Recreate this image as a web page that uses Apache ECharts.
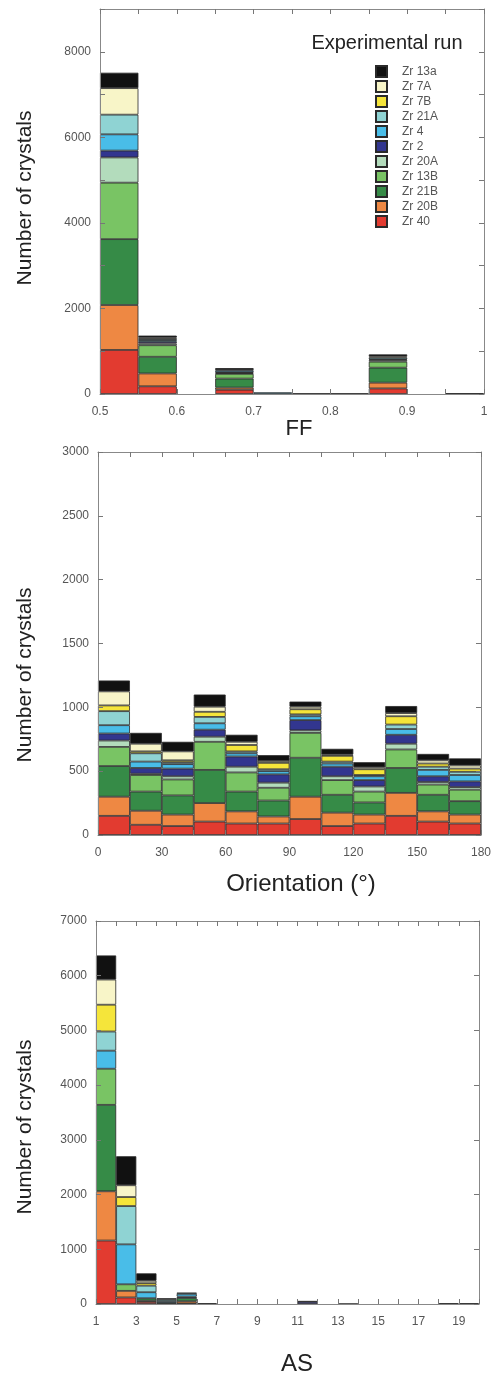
<!DOCTYPE html>
<html>
<head>
<meta charset="utf-8">
<script src="https://cdn.jsdelivr.net/npm/echarts@6/dist/echarts.min.js"></script>
<style>
  html, body { margin: 0; padding: 0; background: #fff; }
  #chart { width: 494px; height: 1377px; }
</style>
</head>
<body>
<div id="chart"></div>
<script>
// runs, bottom of the stack first
const runs = ['Zr 40', 'Zr 20B', 'Zr 21B', 'Zr 13B', 'Zr 20A', 'Zr 2', 'Zr 4', 'Zr 21A', 'Zr 7B', 'Zr 7A', 'Zr 13a']
const runColors = ['#e23b30', '#ee8843', '#368b47', '#79c464', '#b3dcbc', '#32368f', '#49bde8', '#8fd3d3', '#f5e53a', '#f8f5c8', '#111111']
const legendOrder = ['Zr 13a', 'Zr 7A', 'Zr 7B', 'Zr 21A', 'Zr 4', 'Zr 2', 'Zr 20A', 'Zr 13B', 'Zr 21B', 'Zr 20B', 'Zr 40']

// FF, bins of 0.05 from 0.5 to 1
const ffBins = ['0.50', '0.55', '0.60', '0.65', '0.70', '0.75', '0.80', '0.85', '0.90', '0.95']
const ffCounts = [
  [1030, 180, 0, 100, 0, 0, 0, 130, 0, 0],
  [1050, 300, 0, 50, 0, 0, 0, 135, 0, 0],
  [1540, 390, 0, 210, 0, 0, 0, 350, 0, 0],
  [1320, 270, 0, 110, 0, 0, 0, 140, 0, 0],
  [590, 40, 0, 20, 0, 0, 0, 40, 0, 0],
  [160, 40, 0, 20, 0, 0, 0, 0, 0, 0],
  [380, 40, 0, 40, 40, 0, 0, 15, 0, 0],
  [460, 30, 0, 25, 0, 0, 0, 40, 0, 0],
  [0, 0, 0, 0, 0, 0, 0, 0, 0, 0],
  [620, 30, 0, 10, 0, 0, 0, 30, 0, 0],
  [360, 45, 0, 15, 0, 15, 15, 45, 0, 20],
]

// orientation, bins of 15 degrees
const orBins = ['0', '15', '30', '45', '60', '75', '90', '105', '120', '135', '150', '165']
const orCounts = [
  [150, 80, 70, 105, 90, 90, 125, 70, 90, 150, 105, 90],
  [150, 110, 90, 145, 95, 55, 175, 105, 70, 180, 80, 70],
  [240, 150, 150, 260, 155, 125, 305, 140, 95, 195, 130, 105],
  [150, 130, 125, 220, 150, 100, 195, 115, 85, 145, 80, 90],
  [50, 10, 25, 40, 45, 40, 20, 30, 40, 45, 20, 20],
  [55, 45, 60, 55, 80, 65, 80, 75, 50, 70, 45, 45],
  [65, 50, 35, 50, 25, 25, 30, 25, 30, 45, 50, 50],
  [110, 65, 15, 50, 15, 15, 15, 15, 10, 35, 25, 25],
  [45, 15, 15, 40, 50, 50, 40, 45, 45, 65, 25, 25],
  [110, 60, 70, 40, 25, 15, 20, 10, 15, 25, 25, 25],
  [85, 85, 75, 95, 55, 45, 40, 45, 40, 55, 50, 55],
]

// AS, bins of 1 from 1 to 20
const asBins = ['1', '2', '3', '4', '5', '6', '7', '8', '9', '10', '11', '12', '13', '14', '15', '16', '17', '18', '19']
const asCounts = [
  [1160, 120, 40, 0, 10, 0, 0, 0, 0, 0, 0, 0, 0, 0, 0, 0, 0, 0, 0],
  [900, 120, 20, 0, 40, 0, 0, 0, 0, 0, 0, 0, 0, 0, 0, 0, 0, 0, 0],
  [1580, 0, 45, 20, 60, 0, 0, 0, 0, 0, 0, 0, 0, 0, 0, 0, 0, 0, 0],
  [660, 120, 0, 0, 0, 0, 0, 0, 0, 0, 0, 0, 0, 0, 0, 0, 0, 0, 0],
  [0, 0, 0, 0, 0, 0, 0, 0, 0, 0, 0, 0, 0, 0, 0, 0, 0, 0, 0],
  [0, 0, 0, 0, 25, 0, 0, 0, 0, 0, 40, 0, 0, 0, 0, 0, 0, 0, 0],
  [330, 730, 110, 30, 50, 0, 0, 0, 0, 0, 0, 0, 0, 0, 0, 0, 0, 0, 0],
  [350, 700, 120, 30, 25, 0, 0, 0, 0, 0, 0, 0, 0, 0, 0, 0, 0, 0, 0],
  [490, 165, 45, 0, 0, 0, 0, 0, 0, 0, 0, 0, 0, 0, 0, 0, 0, 0, 0],
  [460, 215, 45, 0, 0, 0, 0, 0, 0, 0, 0, 0, 0, 0, 0, 0, 0, 0, 0],
  [440, 530, 135, 25, 0, 15, 0, 0, 0, 0, 15, 0, 5, 0, 0, 0, 0, 15, 15],
]

const font = '"Liberation Sans", Arial, sans-serif'
const lineColor = '#888'

const grids = [
  { left: 100, top: 9, width: 384, height: 385 },
  { left: 98, top: 452, width: 384, height: 383 },
  { left: 96, top: 921, width: 383, height: 383 },
]

function panelX(g, bins, min, max, interval, labelFn) {
  const tick = { show: true, inside: true, length: 5, interval: 0, lineStyle: { color: '#777' } }
  return [
    {
      type: 'category', gridIndex: g, position: 'bottom', data: bins, boundaryGap: true, z: 3,
      axisLine: { onZero: false, lineStyle: { color: lineColor } },
      axisTick: tick,
      axisLabel: { show: false, interval: 0 },
    },
    {
      type: 'value', gridIndex: g, position: 'bottom', min: min, max: max, interval: interval,
      axisLine: { show: false }, axisTick: { show: false }, splitLine: { show: false },
      axisLabel: { color: '#555', fontSize: 12, fontFamily: font, margin: 12, formatter: labelFn },
    },
    {
      type: 'category', gridIndex: g, position: 'top', data: bins, boundaryGap: true, z: 3,
      axisLine: { onZero: false, lineStyle: { color: lineColor } },
      axisTick: tick,
      axisLabel: { show: false, interval: 0 },
    },
  ]
}

function panelY(g, max, interval, labelFn) {
  const tick = { show: true, inside: true, length: 5, lineStyle: { color: '#777' } }
  return [
    {
      type: 'value', gridIndex: g, position: 'left', min: 0, max: max, interval: interval, z: 3,
      axisLine: { show: true, onZero: false, lineStyle: { color: lineColor } },
      axisTick: tick, splitLine: { show: false },
      axisLabel: { color: '#555', fontSize: 12, fontFamily: font, margin: 9, formatter: labelFn },
    },
    {
      type: 'value', gridIndex: g, position: 'right', min: 0, max: max, interval: interval, z: 3,
      axisLine: { show: true, onZero: false, lineStyle: { color: lineColor } },
      axisTick: tick, splitLine: { show: false }, axisLabel: { show: false },
    },
  ]
}

function panelSeries(p, counts) {
  return runs.map((name, i) => ({
    name: name,
    type: 'bar',
    xAxisIndex: p * 3,
    yAxisIndex: p * 2,
    stack: 'panel' + p,
    barWidth: '100%',
    itemStyle: { color: runColors[i], borderColor: '#2a2a2a', borderWidth: 0.8 },
    data: counts[i].map(v => (v === 0 ? '-' : v)),
  }))
}

function title(text, x, y, size, rotate) {
  return {
    type: 'text', x: x, y: y, rotation: rotate ? Math.PI / 2 : 0,
    style: {
      text: text, font: size + 'px ' + font, fill: '#222',
      textAlign: 'center', textVerticalAlign: 'middle', align: 'center', verticalAlign: 'middle',
    },
  }
}

const chart = echarts.init(document.querySelector('#chart'))
const option = {
  animation: false,
  backgroundColor: '#fff',
  grid: grids,
  xAxis: [
    ...panelX(0, ffBins, 0.5, 1, 0.1, v => String(Math.round(v * 10) / 10)),
    ...panelX(1, orBins, 0, 180, 30, v => v),
    ...panelX(2, asBins, 1, 20, 1, v => (v % 2 === 1 ? v : '')),
  ],
  yAxis: [
    ...panelY(0, 9000, 1000, v => (v % 2000 === 0 ? v : '')),
    ...panelY(1, 3000, 500, v => v),
    ...panelY(2, 7000, 1000, v => v),
  ],
  legend: {
    data: legendOrder,
    orient: 'vertical',
    left: 375,
    top: 65,
    padding: 0,
    itemWidth: 11,
    itemHeight: 11,
    itemGap: 2,
    icon: 'rect',
    textStyle: { color: '#555', fontSize: 12, fontFamily: font, lineHeight: 11, padding: [0, 0, 0, 10] },
  },
  graphic: [
    title('Experimental run', 387, 43, 20),
    title('Number of crystals', 25, 198, 21, true),
    title('Number of crystals', 25, 675, 21, true),
    title('Number of crystals', 25, 1127, 21, true),
    title('FF', 299, 429, 22),
    title('Orientation (°)', 301, 884, 24),
    title('AS', 297, 1364, 24),
  ],
  series: [
    ...panelSeries(0, ffCounts),
    ...panelSeries(1, orCounts),
    ...panelSeries(2, asCounts),
  ],
}
chart.setOption(option)
</script>
</body>
</html>
